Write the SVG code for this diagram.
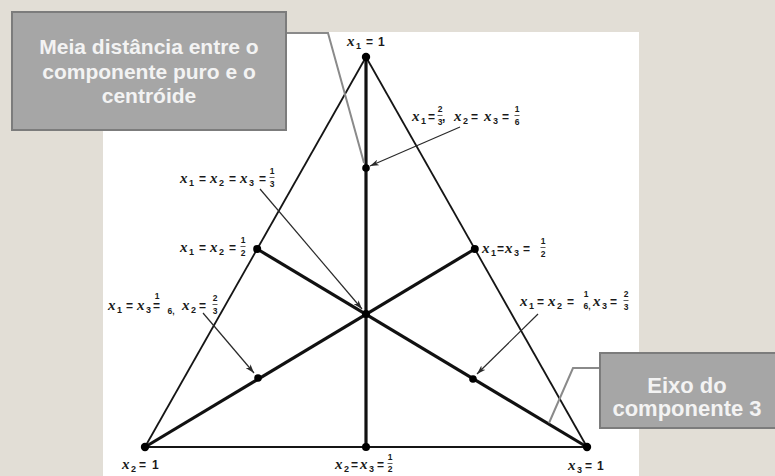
<svg xmlns="http://www.w3.org/2000/svg" width="775" height="476" viewBox="0 0 775 476">
<defs>
<style>
.v{font-family:"Liberation Serif",serif;font-style:italic;font-weight:bold;font-size:15px;fill:#1a1a1a}
.sb{font-family:"Liberation Sans",sans-serif;font-weight:bold;font-size:9px;fill:#1a1a1a}
.op{font-family:"Liberation Sans",sans-serif;font-weight:bold;font-size:12px;fill:#1a1a1a}
.fr{font-family:"Liberation Sans",sans-serif;font-weight:bold;font-size:8.5px;fill:#1a1a1a;text-anchor:middle}
.side{stroke:#151515;stroke-width:1.8;fill:none}
.med{stroke:#111;stroke-width:3.2;fill:none}
.arr{stroke:#2a2a2a;stroke-width:1.2;fill:none;marker-end:url(#ah)}
.lead{stroke:#8a8a8a;stroke-width:2;fill:none}
.dot{fill:#000}
.box{fill:#a6a6a6;stroke:#7c7c7c;stroke-width:2}
.bt{font-family:"Liberation Sans",sans-serif;font-weight:bold;fill:#f3f3f3;text-anchor:middle}
.fb{stroke:#1a1a1a;stroke-width:0.7}
</style>
<marker id="ah" markerWidth="9" markerHeight="6" refX="9" refY="3" orient="auto" markerUnits="userSpaceOnUse">
<path d="M0,0 L9,3 L0,6 L2.5,3 z" fill="#2a2a2a"/>
</marker>
</defs>
<rect x="0" y="0" width="775" height="476" fill="#e2ded6"/>
<rect x="103" y="32" width="536" height="444" fill="#ffffff"/>

<g id="connectors">
<line class="side" x1="366" y1="57" x2="145" y2="447"/>
<line class="side" x1="366" y1="57" x2="587" y2="447"/>
<line class="side" x1="145" y1="447" x2="587" y2="447"/>
<line class="med" x1="366" y1="57" x2="366" y2="447"/>
<line class="med" x1="257.2" y1="249" x2="587" y2="447"/>
<line class="med" x1="474.8" y1="249" x2="145" y2="447"/>
<line class="arr" x1="460" y1="127" x2="370" y2="166"/>
<line class="arr" x1="260" y1="189" x2="362" y2="309"/>
<line class="arr" x1="203" y1="313" x2="254" y2="373"/>
<line class="arr" x1="538" y1="314" x2="477" y2="374"/>
<polyline class="lead" points="286,33 328,33 364,163"/>
<polyline class="lead" points="600,368 573,368 549,423"/>
</g>

<g id="v1">
<circle class="dot" cx="366" cy="57" r="4.2"/>
<text y="46"><tspan class="v" x="347">x</tspan><tspan class="sb" x="356" dy="3">1</tspan><tspan class="op" x="366" dy="-3">=</tspan><tspan class="op" x="378">1</tspan></text>
</g>

<g id="p-half-top">
<circle class="dot" cx="366" cy="168" r="3.8"/>
<text y="121"><tspan class="v" x="412">x</tspan><tspan class="sb" x="421" dy="3">1</tspan><tspan class="op" x="428" dy="-3">=</tspan><tspan class="op" x="442">,</tspan><tspan class="v" x="454">x</tspan><tspan class="sb" x="463" dy="3">2</tspan><tspan class="op" x="471" dy="-3">=</tspan><tspan class="v" x="484">x</tspan><tspan class="sb" x="493" dy="3">3</tspan><tspan class="op" x="502" dy="-3">=</tspan></text>
<text class="fr" x="440" y="112">2</text><line class="fb" x1="437.5" y1="115.5" x2="442.5" y2="115.5"/><text class="fr" x="440" y="125">3</text>
<text class="fr" x="517" y="112">1</text><line class="fb" x1="514.5" y1="115.5" x2="519.5" y2="115.5"/><text class="fr" x="517" y="125">6</text>
</g>

<g id="centroid">
<circle class="dot" cx="366" cy="314" r="4"/>
<text y="183"><tspan class="v" x="180">x</tspan><tspan class="sb" x="189" dy="3">1</tspan><tspan class="op" x="199" dy="-3">=</tspan><tspan class="v" x="210">x</tspan><tspan class="sb" x="219" dy="3">2</tspan><tspan class="op" x="229" dy="-3">=</tspan><tspan class="v" x="240">x</tspan><tspan class="sb" x="249" dy="3">3</tspan><tspan class="op" x="259" dy="-3">=</tspan></text>
<text class="fr" x="272" y="174">1</text><line class="fb" x1="269.5" y1="177.5" x2="274.5" y2="177.5"/><text class="fr" x="272" y="187">3</text>
</g>

<g id="p12">
<circle class="dot" cx="257.2" cy="249" r="4"/>
<text y="252"><tspan class="v" x="180">x</tspan><tspan class="sb" x="189" dy="3">1</tspan><tspan class="op" x="199" dy="-3">=</tspan><tspan class="v" x="210">x</tspan><tspan class="sb" x="219" dy="3">2</tspan><tspan class="op" x="229" dy="-3">=</tspan></text>
<text class="fr" x="243" y="243">1</text><line class="fb" x1="240.5" y1="246.5" x2="245.5" y2="246.5"/><text class="fr" x="243" y="256">2</text>
</g>

<g id="p13">
<circle class="dot" cx="474.8" cy="249" r="4"/>
<text y="253"><tspan class="v" x="482">x</tspan><tspan class="sb" x="491" dy="3">1</tspan><tspan class="op" x="497" dy="-3">=</tspan><tspan class="v" x="505">x</tspan><tspan class="sb" x="514" dy="3">3</tspan><tspan class="op" x="523" dy="-3">=</tspan></text>
<text class="fr" x="543" y="244">1</text><line class="fb" x1="540.5" y1="247.5" x2="545.5" y2="247.5"/><text class="fr" x="543" y="257">2</text>
</g>

<g id="p-half-left">
<circle class="dot" cx="258" cy="378" r="3.8"/>
<text y="310"><tspan class="v" x="108">x</tspan><tspan class="sb" x="117" dy="3">1</tspan><tspan class="op" x="126" dy="-3">=</tspan><tspan class="v" x="137">x</tspan><tspan class="sb" x="146" dy="3">3</tspan><tspan class="op" x="153" dy="-3">=</tspan><tspan class="v" x="182">x</tspan><tspan class="sb" x="191" dy="3">2</tspan><tspan class="op" x="199" dy="-3">=</tspan></text>
<text class="fr" x="157" y="299">1</text>
<text class="fr" x="171" y="314">6,</text>
<text class="fr" x="215" y="301">2</text><line class="fb" x1="212.5" y1="304.5" x2="217.5" y2="304.5"/><text class="fr" x="215" y="314">3</text>
</g>

<g id="p-half-right">
<circle class="dot" cx="473" cy="379" r="3.8"/>
<text y="306"><tspan class="v" x="520">x</tspan><tspan class="sb" x="529" dy="3">1</tspan><tspan class="op" x="537" dy="-3">=</tspan><tspan class="v" x="548">x</tspan><tspan class="sb" x="557" dy="3">2</tspan><tspan class="op" x="567" dy="-3">=</tspan><tspan class="v" x="593">x</tspan><tspan class="sb" x="602" dy="3">3</tspan><tspan class="op" x="610" dy="-3">=</tspan></text>
<text class="fr" x="586" y="297">1</text>
<text class="fr" x="587" y="309">6,</text>
<text class="fr" x="626" y="297">2</text><line class="fb" x1="623.5" y1="300.5" x2="628.5" y2="300.5"/><text class="fr" x="626" y="310">3</text>
</g>

<g id="v2">
<circle class="dot" cx="145" cy="447" r="4.2"/>
<text y="469"><tspan class="v" x="122">x</tspan><tspan class="sb" x="131" dy="3">2</tspan><tspan class="op" x="139" dy="-3">=</tspan><tspan class="op" x="152">1</tspan></text>
</g>

<g id="p23">
<circle class="dot" cx="366" cy="447" r="4"/>
<text y="469"><tspan class="v" x="335">x</tspan><tspan class="sb" x="344" dy="3">2</tspan><tspan class="op" x="351" dy="-3">=</tspan><tspan class="v" x="360">x</tspan><tspan class="sb" x="369" dy="3">3</tspan><tspan class="op" x="377" dy="-3">=</tspan></text>
<text class="fr" x="390" y="460">1</text><line class="fb" x1="387.5" y1="463.5" x2="392.5" y2="463.5"/><text class="fr" x="390" y="472">2</text>
</g>

<g id="v3">
<circle class="dot" cx="587" cy="447" r="4.2"/>
<text y="470"><tspan class="v" x="568">x</tspan><tspan class="sb" x="577" dy="3">3</tspan><tspan class="op" x="585" dy="-3">=</tspan><tspan class="op" x="597">1</tspan></text>
</g>

<g id="callout1">
<rect class="box" x="12" y="12" width="274" height="118"/>
<text class="bt" font-size="21" x="149" y="54">Meia distância entre o</text>
<text class="bt" font-size="21" x="149" y="79">componente puro e o</text>
<text class="bt" font-size="21" x="149" y="103">centróide</text>
</g>

<g id="callout2">
<rect class="box" x="600" y="353" width="176" height="75"/>
<text class="bt" font-size="22" x="687" y="393">Eixo do</text>
<text class="bt" font-size="22" x="687" y="416">componente 3</text>
</g>
</svg>
